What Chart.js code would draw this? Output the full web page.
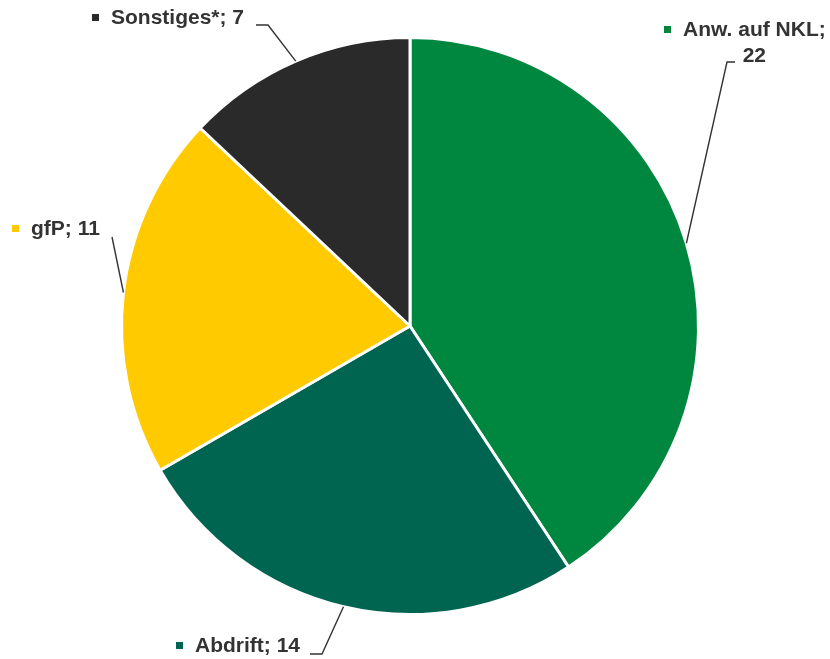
<!DOCTYPE html>
<html>
<head>
<meta charset="utf-8">
<script src="https://cdn.jsdelivr.net/npm/chart.js@4/dist/chart.umd.min.js"></script>
<style>
    html, body { margin: 0; padding: 0; background: #fff; }
    #wrap { width: 830px; height: 659px; }
</style>
</head>
<body>
<div id="wrap"><canvas id="myChart"></canvas></div>
<script>
const labels = ["Anw. auf NKL", "Abdrift", "gfP", "Sonstiges*"];
const values = [22, 14, 11, 7];
const sliceColors = ["#00873F", "#006550", "#FFCB00", "#2A2A2A"];

// text block position, leader elbow and which way the short horizontal stub points
const labelSetup = [
    { lines: ["Anw. auf NKL;", "22"], tx: 683, ty: 30, elbow: [735, 62], side: "left" },
    { lines: ["Abdrift; 14"], tx: 195, ty: 646, elbow: [310, 654], side: "right" },
    { lines: ["gfP; 11"], tx: 31, ty: 229, elbow: [112, 237], side: "none" },
    { lines: ["Sonstiges*; 7"], tx: 111, ty: 18, elbow: [256, 25], side: "right" }
];

const leaderLabels = {
    id: "leaderLabels",
    afterDatasetsDraw(chart) {
        const ctx = chart.ctx;
        const arcs = chart.getDatasetMeta(0).data;
        ctx.save();
        ctx.font = "bold 21px 'Liberation Sans', Arial, sans-serif";
        ctx.textBaseline = "middle";
        arcs.forEach((arc, i) => {
            const s = labelSetup[i];
            const mid = (arc.startAngle + arc.endAngle) / 2;
            const ex = arc.x + Math.cos(mid) * arc.outerRadius;
            const ey = arc.y + Math.sin(mid) * arc.outerRadius;

            // leader line
            ctx.strokeStyle = "#333333";
            ctx.lineWidth = 1.4;
            ctx.beginPath();
            const [bx, by] = s.elbow;
            if (s.side === "right") {
                ctx.moveTo(bx, by);
                ctx.lineTo(bx + 12, by);
            } else if (s.side === "left") {
                ctx.moveTo(bx, by);
                ctx.lineTo(bx - 8, by);
            } else {
                ctx.moveTo(bx, by);
            }
            ctx.lineTo(ex, ey);
            ctx.stroke();

            // little colour square
            ctx.fillStyle = sliceColors[i];
            ctx.fillRect(s.tx - 19, s.ty - 4, 7, 7);

            // text
            ctx.fillStyle = "#333333";
            ctx.textAlign = "left";
            ctx.fillText(s.lines[0], s.tx, s.ty);
            if (s.lines[1]) {
                const w = ctx.measureText(s.lines[0]).width;
                ctx.textAlign = "center";
                ctx.fillText(s.lines[1], s.tx + w / 2, s.ty + 26);
            }
        });
        ctx.restore();
    }
};

new Chart("myChart", {
    type: "pie",
    data: {
        labels: labels,
        datasets: [{
            data: values,
            backgroundColor: sliceColors,
            borderColor: "#ffffff",
            borderWidth: 3
        }]
    },
    options: {
        responsive: true,
        maintainAspectRatio: false,
        animation: false,
        layout: {
            padding: { left: 120, right: 130, top: 36, bottom: 43 }
        },
        plugins: {
            legend: { display: false },
            tooltip: { enabled: false }
        }
    },
    plugins: [leaderLabels]
});
</script>
</body>
</html>
